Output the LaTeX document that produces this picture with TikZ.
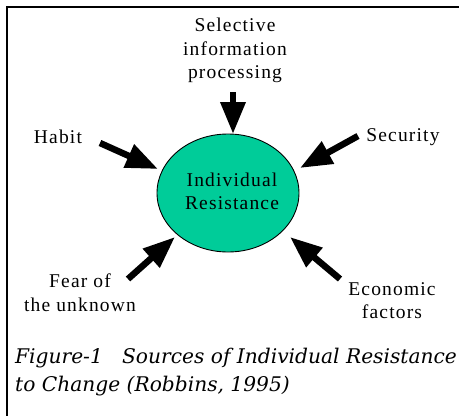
\documentclass[tikz,border=0pt]{standalone}
\usepackage{fontspec}
\setmainfont{Liberation Serif}
\newfontfamily\lblfont[LetterSpace=6]{Liberation Serif}
\newfontfamily\capfont{DejaVu Serif}
\usetikzlibrary{arrows.meta,shapes.geometric}
\definecolor{resfill}{RGB}{0,204,153}
\begin{document}
\begin{tikzpicture}[x=1pt,y=-1pt,
  lbl/.style={font=\lblfont\fontsize{19.5}{23.5}\selectfont, align=center, inner sep=0pt},
  push/.style={line width=6.5pt, -{Triangle[width=24pt,length=32pt]}},
  framerule/.style={line width=2.2pt},
  core/.style={ellipse, draw=black, line width=0.9pt, fill=resfill,
    minimum width=142pt, minimum height=118pt, inner sep=0pt},
  captext/.style={font=\capfont\itshape\fontsize{20.2}{28}\selectfont,
    anchor=base west, inner sep=0pt}]
\useasboundingbox (0,0) rectangle (459,416);
% open frame: top and left rules
\draw[framerule] (7,420) -- (7,7) -- (465,7);

% central node
\node[core] (res) at (228,193) {};
\node[lbl] (restext) at (232,191.5) {Individual\\Resistance};

% sources
\node[lbl] (sel) at (235,50.5) {Selective\\information\\processing};
\node[lbl] (habit) at (58,137) {Habit};
\node[lbl] (sec) at (403,137) {Security};
\node[lbl] (fear) at (80,292.5) {Fear of\\the unknown};
\node[lbl] (econ) at (392,300.5) {Economic\\factors};

% arrow ends
\coordinate (selT) at (233,92);   \coordinate (selH) at (233,134);
\coordinate (habT) at (100,143);  \coordinate (habH) at (158,169);
\coordinate (secT) at (358,136);  \coordinate (secH) at (300,168);
\coordinate (fearT) at (128,279); \coordinate (fearH) at (175,237);
\coordinate (ecoT) at (340,279);  \coordinate (ecoH) at (290,237);

\draw[push] (selT) -- (selH);
\draw[push] (habT) -- (habH);
\draw[push] (secT) -- (secH);
\draw[push] (fearT) -- (fearH);
\draw[push] (ecoT) -- (ecoH);

% caption
\node[captext] (cap1) at (15,363) {Figure-1\ \ \ Sources of Individual Resistance};
\node[captext] (cap2) at (15,391) {to Change (Robbins, 1995)};
\end{tikzpicture}
\end{document}
